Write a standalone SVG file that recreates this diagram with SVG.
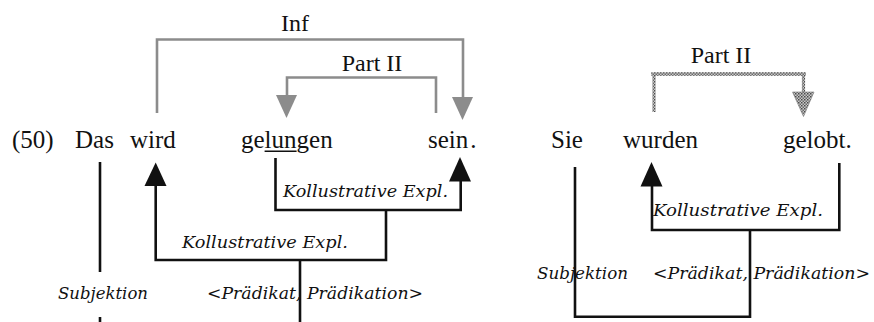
<svg xmlns="http://www.w3.org/2000/svg" width="874" height="322" viewBox="0 0 874 322">
  <style>
    .word { font-family: "Liberation Serif", "Times New Roman", serif; font-size: 25px; fill: #111; }
    .rel { font-family: "Liberation Serif", "Times New Roman", serif; font-size: 24px; fill: #111; text-anchor: middle; }
    .fn { font-family: "DejaVu Serif", "Liberation Serif", serif; font-style: italic; font-size: 17.5px; fill: #111; }
    .gray { fill: none; stroke: #8c8c8c; stroke-width: 2.6; }
    .dot { fill: none; stroke: url(#grain); stroke-width: 3.2; }
    .blk { fill: none; stroke: #111; stroke-width: 2.6; }
    .ul { stroke: #111; stroke-width: 1.4; }
  </style>
  <defs>
    <!-- fine stippled grey for the passive Part II bracket -->
    <pattern id="grain" width="3" height="3" patternUnits="userSpaceOnUse">
      <rect width="3" height="3" fill="#c8c8c8"/>
      <rect width="1.5" height="1.5" fill="#4a4a4a"/>
      <rect x="1.5" y="1.5" width="1.5" height="1.5" fill="#6a6a6a"/>
    </pattern>
  </defs>
  <rect width="874" height="322" fill="#fff"/>

  <!-- connectors -->
  <g id="connectors">
    <!-- Inf: wird -> sein. -->
    <polyline class="gray" points="157,113 157,39.5 463,39.5 463,98"/>
    <polygon points="452,97 473,97 462.5,120" fill="#8c8c8c"/>
    <!-- Part II: sein. -> gelungen -->
    <polyline class="gray" points="436,113 436,77.5 287,77.5 287,96"/>
    <polygon points="276,95 297,95 286.5,118" fill="#8c8c8c"/>

    <!-- Part II: wurden -> gelobt. (stippled) -->
    <polyline class="dot" points="654,112 654,74 803.5,74 803.5,93"/>
    <line class="dot" x1="651" y1="74" x2="806" y2="74"/>
    <polygon points="792.5,92 814,92 803.5,116.5" fill="url(#grain)" stroke="#777" stroke-width="0.6"/>

    <!-- left tree -->
    <line class="blk" x1="100" y1="162" x2="100" y2="272"/>
    <line class="blk" x1="100" y1="317" x2="100" y2="322"/>
    <polyline class="blk" points="155.7,185 155.7,260 386,260 386,210"/>
    <line class="blk" x1="300" y1="260" x2="300" y2="322"/>
    <polyline class="blk" points="275.5,158 275.5,210 460.7,210 460.7,181"/>
    <polygon points="155.7,162.5 144.5,186 166.5,186" fill="#111"/>
    <polygon points="460,157 449,181.5 471,181.5" fill="#111"/>

    <!-- right tree -->
    <polyline class="blk" points="575,167 575,316.7 750,316.7 750,230"/>
    <polyline class="blk" points="652,186 652,230 839.3,230 839.3,163"/>
    <polygon points="651.5,162 640.5,186.5 662.5,186.5" fill="#111"/>
  </g>

  <!-- relation labels -->
  <g id="lbl-inf"><text class="rel" x="295" y="31">Inf</text></g>
  <g id="lbl-part2-a"><text class="rel" x="372" y="71">Part II</text></g>
  <g id="lbl-part2-b"><text class="rel" x="721" y="62.5">Part II</text></g>

  <!-- example (50) -->
  <g id="num"><text class="word" x="12" y="148">(50)</text></g>
  <g id="w-das"><text class="word" x="75" y="148">Das</text></g>
  <g id="w-wird"><text class="word" x="130" y="148">wird</text></g>
  <g id="w-gelungen">
    <text class="word" x="241" y="148">gelungen</text>
    <line class="ul" x1="264.6" y1="151.3" x2="296.6" y2="151.3"/>
  </g>
  <g id="w-sein"><text class="word" x="428" y="148">sein<tspan dx="2">.</tspan></text></g>

  <g id="w-sie"><text class="word" x="551" y="148">Sie</text></g>
  <g id="w-wurden"><text class="word" x="623" y="148">wurden</text></g>
  <g id="w-gelobt"><text class="word" x="783" y="148">gelobt.</text></g>

  <!-- functional labels -->
  <g id="fn-koll-1"><text class="fn" x="283" y="196.5" textLength="165" lengthAdjust="spacingAndGlyphs">Kollustrative Expl.</text></g>
  <g id="fn-koll-2"><text class="fn" x="182" y="248" textLength="166" lengthAdjust="spacingAndGlyphs">Kollustrative Expl.</text></g>
  <g id="fn-subj-1"><text class="fn" x="58" y="299" textLength="90" lengthAdjust="spacingAndGlyphs">Subjektion</text></g>
  <g id="fn-praed-1"><text class="fn" x="207" y="299" textLength="216" lengthAdjust="spacingAndGlyphs">&lt;Prädikat, Prädikation&gt;</text></g>

  <g id="fn-koll-3"><text class="fn" x="653" y="216" textLength="170" lengthAdjust="spacingAndGlyphs">Kollustrative Expl.</text></g>
  <g id="fn-subj-2"><text class="fn" x="537" y="279" textLength="91" lengthAdjust="spacingAndGlyphs">Subjektion</text></g>
  <g id="fn-praed-2"><text class="fn" x="653" y="279" textLength="217" lengthAdjust="spacingAndGlyphs">&lt;Prädikat, Prädikation&gt;</text></g>
</svg>
